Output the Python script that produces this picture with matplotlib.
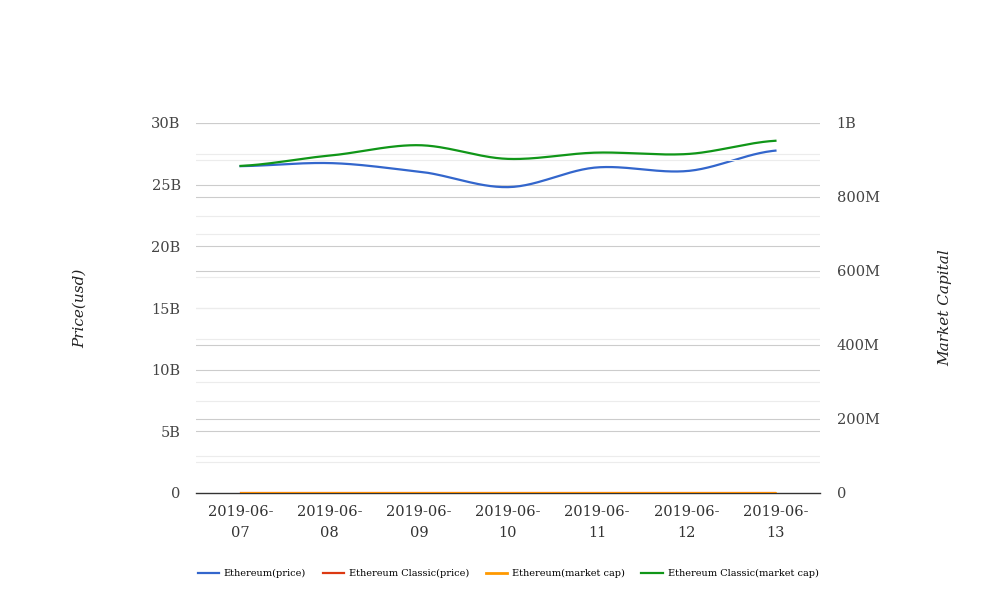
import numpy as np
import matplotlib
matplotlib.use("Agg")
import matplotlib.pyplot as plt
from matplotlib.ticker import FixedLocator

dates = ["2019-06-\n07", "2019-06-\n08", "2019-06-\n09", "2019-06-\n10",
         "2019-06-\n11", "2019-06-\n12", "2019-06-\n13"]
eth_price = [26.5e9, 26.75e9, 26.06e9, 24.8e9, 26.4e9, 26.1e9, 27.76e9]
etc_price = [8.2, 8.3, 8.4, 8.1, 8.2, 8.2, 8.5]
eth_mcap = [250, 252, 245, 235, 248, 246, 262]
etc_mcap = [884e6, 912e6, 940e6, 903e6, 920e6, 916e6, 952e6]

left_ticks = [0, 5e9, 10e9, 15e9, 20e9, 25e9, 30e9]
left_labels = ["0", "5B", "10B", "15B", "20B", "25B", "30B"]
right_ticks = [0, 200e6, 400e6, 600e6, 800e6, 1e9]
right_labels = ["0", "200M", "400M", "600M", "800M", "1B"]

plt.rcParams['font.family'] = ['DejaVu Serif', 'DejaVu Sans']

def smooth(xs, ys, n=30, t=0.4):
    xs = np.asarray(xs, float); ys = np.asarray(ys, float)
    px = np.concatenate([[2*xs[0]-xs[1]], xs, [2*xs[-1]-xs[-2]]])
    py = np.concatenate([[ys[0]], ys, [ys[-1]]])
    ox, oy = [], []
    for i in range(1, len(px)-2):
        p0, p1, p2, p3 = py[i-1], py[i], py[i+1], py[i+2]
        m1 = t*(p2-p0)
        m2 = t*(p3-p1)
        s = np.linspace(0, 1, n, endpoint=(i == len(px)-3))
        h00 = 2*s**3-3*s**2+1; h10 = s**3-2*s**2+s
        h01 = -2*s**3+3*s**2; h11 = s**3-s**2
        oy.append(h00*p1+h10*m1+h01*p2+h11*m2)
        ox.append(px[i]+s*(px[i+1]-px[i]))
    return np.concatenate(ox), np.concatenate(oy)

fig = plt.figure(figsize=(10.08, 6.16), dpi=100)
ax = fig.add_axes([196/1008, 1-493/616, 624/1008, 370/616])
ax2 = ax.twinx()

x = np.arange(len(dates))
ax.set_xlim(-0.5, 6.5)
ax.set_ylim(0, 30e9)
ax2.set_ylim(0, 1e9)

for v in np.arange(2.5e9, 30e9, 5e9):
    ax.axhline(v, color="#ececec", lw=0.8, zorder=0)
for v in left_ticks[1:]:
    ax.axhline(v, color="#cccccc", lw=0.8, zorder=0)
for v in np.arange(100e6, 1e9, 200e6):
    ax2.axhline(v, color="#ececec", lw=0.8, zorder=0)
for v in right_ticks[1:]:
    ax2.axhline(v, color="#cccccc", lw=0.8, zorder=0)

colors = {"blue": "#3366cc", "red": "#dc3912", "orange": "#ff9900", "green": "#109618"}
l1, = ax.plot(*smooth(x, eth_price), color=colors["blue"], lw=1.6, label="Ethereum(price)", zorder=3)
l2, = ax.plot(*smooth(x, etc_price), color=colors["red"], lw=1.6, label="Ethereum Classic(price)", zorder=3)
l3, = ax2.plot(*smooth(x, eth_mcap), color=colors["orange"], lw=2.0, label="Ethereum(market cap)", zorder=4)
l4, = ax2.plot(*smooth(x, etc_mcap), color=colors["green"], lw=1.6, label="Ethereum Classic(market cap)", zorder=4)

ax.set_xticks(x)
ax.set_xticklabels(dates, fontsize=10.5, color="#333333", linespacing=1.55)
ax.yaxis.set_major_locator(FixedLocator(left_ticks))
ax.set_yticklabels(left_labels, fontsize=10.5, color="#444444")
ax2.yaxis.set_major_locator(FixedLocator(right_ticks))
ax2.set_yticklabels(right_labels, fontsize=10.5, color="#444444")

for a in (ax, ax2):
    for s in ("top", "left", "right", "bottom"):
        a.spines[s].set_visible(False)
    a.tick_params(length=0)
ax.spines["bottom"].set_visible(True)
ax.spines["bottom"].set_color("#333333")
ax.spines["bottom"].set_linewidth(1.0)
ax.tick_params(axis="x", pad=9)
ax.tick_params(axis="y", pad=11)
ax2.tick_params(axis="y", pad=12)

fig.text(80/1008, 1-308/616, "Price(usd)", rotation=90, style="italic",
         fontsize=11, color="#222222", ha="center", va="center")
fig.text(945/1008, 1-308/616, "Market Capital", rotation=90, style="italic",
         fontsize=11, color="#222222", ha="center", va="center")

fig.legend(handles=[l1, l2, l3, l4], loc="center", bbox_to_anchor=(508/1008, 1-573.5/616),
           ncol=4, frameon=False, fontsize=7, handlelength=2.2, handletextpad=0.5,
           columnspacing=1.7)

fig.savefig("out.png", dpi=100)
